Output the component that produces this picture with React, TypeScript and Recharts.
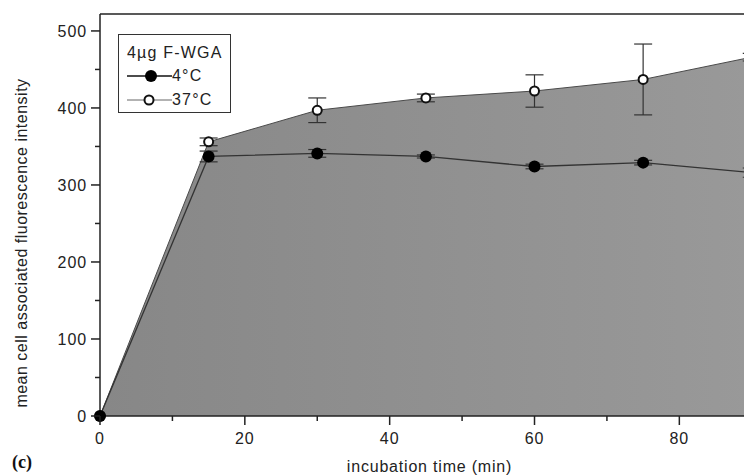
import React from 'react';
import { ComposedChart, Area, Line, XAxis, YAxis, ErrorBar, ReferenceLine } from 'recharts';

// incubation time (min)
const times = [0, 15, 30, 45, 60, 75, 90];
// mean fluorescence, 4°C
const coldMeans = [0, 337, 341, 337, 324, 329, 316];
const coldErrors = [0, 7, 5, 2, 3, 3, 6];
// mean fluorescence, 37°C
const warmMeans = [0, 356, 397, 413, 422, 437, 466];
const warmErrors = [0, 5, 16, 5, 21, 46, 5];

const xTicks = [0, 10, 20, 30, 40, 50, 60, 70, 80, 90];
const xLabelled = [0, 20, 40, 60, 80];
const yTicks = [0, 50, 100, 150, 200, 250, 300, 350, 400, 450, 500];
const yLabelled = [0, 100, 200, 300, 400, 500];

const data = times.map((t, i) => ({
  t,
  cold: coldMeans[i],
  coldErr: coldErrors[i],
  warm: warmMeans[i],
  warmErr: warmErrors[i],
}));

const FONT = 'Arial, "Liberation Sans", Helvetica, sans-serif';
const INK = '#222';

const XTick = ({ x, y, payload }: any) => {
  const major = xLabelled.includes(payload.value);
  return (
    <g>
      <line x1={x} x2={x} y1={y} y2={y + (major ? 9 : 5)} stroke={INK} strokeWidth={1.5} />
      {major && (
        <text x={x} y={y + 28} textAnchor="middle" fontSize={16} fontFamily={FONT} fill={INK} letterSpacing={0.9}>
          {payload.value}
        </text>
      )}
    </g>
  );
};

const YTick = ({ x, y, payload }: any) => {
  const major = yLabelled.includes(payload.value);
  return (
    <g>
      <line x1={x - (major ? 9 : 5)} x2={x} y1={y} y2={y} stroke={INK} strokeWidth={1.5} />
      {major && (
        <text x={x - 13} y={y + 6} textAnchor="end" fontSize={16} fontFamily={FONT} fill={INK} letterSpacing={0.9}>
          {payload.value}
        </text>
      )}
    </g>
  );
};

const XTitle = ({ viewBox }: any) => (
  <text
    x={viewBox.x + viewBox.width / 2}
    y={viewBox.y + 56}
    textAnchor="middle"
    fontSize={16}
    fontFamily={FONT}
    fill={INK}
    letterSpacing={0.8}
  >
    incubation time (min)
  </text>
);

const YTitle = ({ viewBox }: any) => {
  const cx = 27;
  const cy = viewBox.y + viewBox.height / 2 + 28;
  return (
    <text
      x={cx}
      y={cy}
      transform={`rotate(-90 ${cx} ${cy})`}
      textAnchor="middle"
      fontSize={16}
      fontFamily={FONT}
      fill={INK}
      letterSpacing={0.5}
    >
      mean cell associated fluorescence intensity
    </text>
  );
};

const LegendRow = ({ filled, label }: { filled: boolean; label: string }) => (
  <div style={{ display: 'flex', alignItems: 'center', height: 24 }}>
    <svg width={45} height={14} style={{ display: 'block', flexShrink: 0 }}>
      <line x1={0} x2={45} y1={7} y2={7} stroke={filled ? '#111' : '#666'} strokeWidth={filled ? 1.5 : 1} />
      {filled ? (
        <circle cx={24} cy={7} r={6} fill="#000" />
      ) : (
        <circle cx={22} cy={7} r={4.5} fill="#fff" stroke="#111" strokeWidth={2} />
      )}
    </svg>
    <span>{label}</span>
  </div>
);

export default function App() {
  return (
    <div
      style={{
        position: 'absolute',
        left: 0,
        top: 0,
        width: 744,
        height: 475,
        overflow: 'hidden',
        background: '#fff',
      }}
    >
      <ComposedChart
        width={770}
        height={475}
        data={data}
        margin={{ top: 14, right: 11, left: 0, bottom: 0 }}
      >
        <defs>
          <linearGradient id="shade" x1="0" y1="0" x2="1" y2="0">
            <stop offset="0%" stopColor="#878787" />
            <stop offset="100%" stopColor="#999999" />
          </linearGradient>
        </defs>
        <XAxis
          dataKey="t"
          type="number"
          domain={[0, 91]}
          ticks={xTicks}
          interval={0}
          tickSize={0}
          tickMargin={0}
          tickLine={false}
          tick={<XTick />}
          axisLine={{ stroke: INK, strokeWidth: 1.5 }}
          height={59}
          label={<XTitle />}
        />
        <YAxis
          type="number"
          domain={[0, 522]}
          ticks={yTicks}
          interval={0}
          tickSize={0}
          tickMargin={0}
          tickLine={false}
          tick={<YTick />}
          axisLine={{ stroke: INK, strokeWidth: 1.5 }}
          width={100}
          label={<YTitle />}
        />
        <ReferenceLine y={522} stroke={INK} strokeWidth={1.5} />
        <ReferenceLine x={91} stroke={INK} strokeWidth={1.5} />
        <Area
          type="linear"
          dataKey="warm"
          stroke="none"
          fill="url(#shade)"
          fillOpacity={1}
          dot={false}
          activeDot={false}
          isAnimationActive={false}
        />
        <Line
          type="linear"
          dataKey="warm"
          stroke="#4a4a4a"
          strokeWidth={1}
          dot={{ r: 4.5, fill: '#fff', stroke: '#111', strokeWidth: 2 }}
          activeDot={false}
          isAnimationActive={false}
        >
          <ErrorBar dataKey="warmErr" direction="y" width={9} stroke="#333" strokeWidth={1.2} isAnimationActive={false} />
        </Line>
        <Line
          type="linear"
          dataKey="cold"
          stroke="#333"
          strokeWidth={1.3}
          dot={{ r: 6, fill: '#000', stroke: '#000', strokeWidth: 0 }}
          activeDot={false}
          isAnimationActive={false}
        >
          <ErrorBar dataKey="coldErr" direction="y" width={9} stroke="#333" strokeWidth={1.2} isAnimationActive={false} />
        </Line>
      </ComposedChart>

      <div
        style={{
          position: 'absolute',
          left: 118,
          top: 34,
          width: 113,
          height: 79,
          border: '1px solid #333',
          boxSizing: 'border-box',
          padding: '9px 0 0 8px',
          fontFamily: FONT,
          fontSize: 16,
          color: INK,
          lineHeight: '18px',
          letterSpacing: 1.2,
        }}
      >
        <div style={{ height: 20, lineHeight: '18px', whiteSpace: 'nowrap' }}>4µg F-WGA</div>
        <LegendRow filled label="4°C" />
        <LegendRow filled={false} label="37°C" />
      </div>

      <div
        style={{
          position: 'absolute',
          left: 12,
          top: 452,
          fontFamily: '"Liberation Serif", "Times New Roman", serif',
          fontWeight: 'bold',
          fontSize: 18,
          color: '#111',
        }}
      >
        (c)
      </div>
    </div>
  );
}
